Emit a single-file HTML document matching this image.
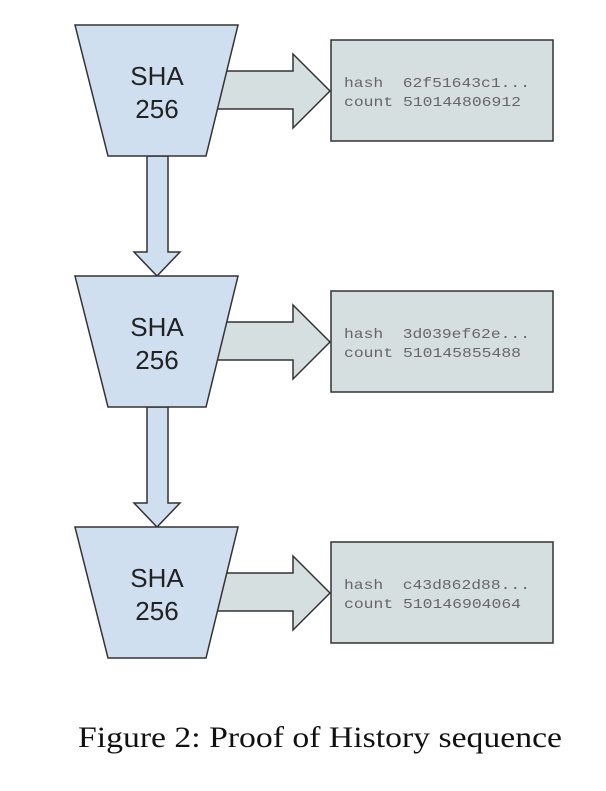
<!DOCTYPE html>
<html><head><style>body{margin:0;background:#fff}</style></head><body>
<svg width="606" height="786" xmlns="http://www.w3.org/2000/svg">
<defs>
<g id="s">
<rect x="331" y="40" width="222" height="101" fill="#d5dfe0" stroke="#333" stroke-width="1.5"/>
<polygon points="226,71 293,71 293,54 330,91 293,128 293,109 214,109" fill="#d5dfe0" stroke="#333" stroke-width="1.5"/>
<polygon points="75,25 238,25 206,156 108,156" fill="#cfdff0" stroke="#333" stroke-width="1.5"/>
<text x="157" y="85" font-family="Liberation Sans, sans-serif" font-size="26" text-anchor="middle" fill="#222">SHA</text>
<text x="157" y="118" font-family="Liberation Sans, sans-serif" font-size="26" text-anchor="middle" fill="#222">256</text>
</g>
<g id="d"><polygon points="147,156 168,156 168,252 180,252 157,276 134,252 147,252" fill="#cfdff0" stroke="#333" stroke-width="1.5"/></g>
</defs>
<use href="#d"/>
<use href="#d" y="251"/>
<use href="#s"/>
<use href="#s" y="251"/>
<use href="#s" y="502"/>
<g font-family="Liberation Mono, monospace" font-size="14" fill="#666">
<text x="344" y="87" xml:space="preserve" textLength="186" lengthAdjust="spacingAndGlyphs">hash  62f51643c1...</text>
<text x="344" y="106" textLength="177" lengthAdjust="spacingAndGlyphs">count 510144806912</text>
<text x="344" y="338" xml:space="preserve" textLength="186" lengthAdjust="spacingAndGlyphs">hash  3d039ef62e...</text>
<text x="344" y="357" textLength="177" lengthAdjust="spacingAndGlyphs">count 510145855488</text>
<text x="344" y="589" xml:space="preserve" textLength="186" lengthAdjust="spacingAndGlyphs">hash  c43d862d88...</text>
<text x="344" y="608" textLength="177" lengthAdjust="spacingAndGlyphs">count 510146904064</text>
</g>
<text x="78" y="747" font-family="Liberation Serif, serif" font-size="30" fill="#111" textLength="484" lengthAdjust="spacingAndGlyphs">Figure 2: Proof of History sequence</text>
</svg>
</body></html>
